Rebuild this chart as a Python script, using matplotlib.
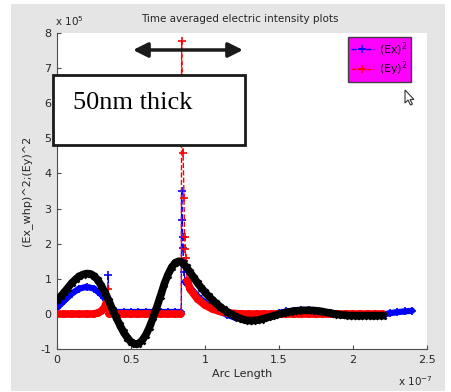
import matplotlib
matplotlib.use("Agg")
import matplotlib.pyplot as plt
import numpy as np
from matplotlib.patches import Rectangle, Polygon
from matplotlib.collections import LineCollection

# ---- data (x in units of 1e-7, y in units of 1e5) ----
ex_x = [0.00, 0.05, 0.10, 0.15, 0.20, 0.25, 0.30, 0.33, 0.342, 0.345, 0.355, 0.40, 0.45, 0.50,
        0.55, 0.60, 0.65, 0.70, 0.75, 0.80, 0.84, 0.842, 0.846, 0.849, 0.851, 0.855, 0.860, 0.865,
        0.88, 0.90, 0.95, 1.00, 1.05, 1.10, 1.15, 1.20, 1.25, 1.30, 1.35, 1.40, 1.45, 1.50,
        1.55, 1.60, 1.65, 1.70, 1.75, 1.80, 1.85, 1.90, 1.95, 2.00, 2.05, 2.10, 2.15, 2.20,
        2.25, 2.30, 2.35, 2.40]
ex_y = [0.17, 0.38, 0.58, 0.72, 0.77, 0.72, 0.55, 0.40, 0.30, 1.10, 0.05, 0.05, 0.05, 0.05,
        0.05, 0.05, 0.05, 0.05, 0.05, 0.05, 0.05, 3.50, 2.66, 2.20, 1.88, 1.50, 1.20, 0.92,
        0.85, 0.75, 0.50, 0.32, 0.17, 0.07, -0.03, -0.10, -0.14, -0.15, -0.12, -0.07, -0.02, 0.03,
        0.07, 0.09, 0.10, 0.10, 0.09, 0.06, 0.03, 0.00, -0.02, -0.03, -0.03, -0.03, -0.03, -0.02,
        0.02, 0.05, 0.07, 0.09]

ey_x = [0.00, 0.05, 0.10, 0.15, 0.20, 0.25, 0.28, 0.30, 0.32, 0.335, 0.345, 0.35, 0.40, 0.45,
        0.50, 0.55, 0.60, 0.65, 0.70, 0.75, 0.80, 0.84, 0.842, 0.852, 0.858, 0.862, 0.866, 0.870,
        0.875, 0.88, 0.90, 0.95, 1.00, 1.05, 1.10, 1.15, 1.20, 1.25, 1.30, 1.35, 1.40, 1.45,
        1.50, 1.55, 1.60, 1.65, 1.70, 1.75, 1.80, 1.85, 1.90, 1.95, 2.00, 2.05, 2.10, 2.15, 2.20]
ey_y = [0.00, 0.00, 0.00, 0.00, 0.00, 0.00, 0.03, 0.08, 0.17, 0.35, 0.70, 0.00, 0.00, 0.00,
        0.00, 0.00, 0.00, 0.00, 0.00, 0.00, 0.00, 0.00, 7.76, 4.59, 3.30, 2.19, 1.85, 1.60,
        1.25, 0.95, 0.70, 0.42, 0.25, 0.14, 0.07, 0.03, 0.01, 0.00, 0.00, 0.00, 0.00, 0.00,
        0.00, 0.00, 0.00, 0.00, 0.00, 0.00, 0.00, 0.00, 0.00, 0.00, 0.00, 0.00, 0.00, 0.00, 0.00]

bk_x = [0.000, 0.025, 0.050, 0.075, 0.100, 0.125, 0.150, 0.175, 0.200, 0.225, 0.250, 0.275,
        0.300, 0.325, 0.350, 0.375, 0.400, 0.425, 0.450, 0.475, 0.500, 0.525, 0.550, 0.575,
        0.600, 0.625, 0.650, 0.675, 0.700, 0.725, 0.750, 0.775, 0.800, 0.825, 0.850, 0.875,
        0.900, 0.925, 0.950, 0.975, 1.000, 1.025, 1.050, 1.075, 1.100, 1.125, 1.150, 1.175,
        1.200, 1.225, 1.250, 1.275, 1.300, 1.325, 1.350, 1.375, 1.400, 1.425, 1.450, 1.475,
        1.500, 1.525, 1.550, 1.575, 1.600, 1.625, 1.650, 1.675, 1.700, 1.725, 1.750, 1.775,
        1.800, 1.825, 1.850, 1.875, 1.900, 1.925, 1.950, 1.975, 2.000, 2.025, 2.050, 2.075,
        2.100, 2.125, 2.150, 2.175, 2.200]
bk_y = [0.40, 0.50, 0.62, 0.75, 0.88, 0.98, 1.07, 1.12, 1.15, 1.14, 1.08, 0.97,
        0.80, 0.60, 0.38, 0.12, -0.10, -0.32, -0.52, -0.68, -0.80, -0.86, -0.85, -0.76,
        -0.60, -0.38, -0.10, 0.20, 0.52, 0.85, 1.12, 1.33, 1.46, 1.50, 1.45, 1.33,
        1.18, 1.03, 0.88, 0.74, 0.62, 0.50, 0.40, 0.30, 0.21, 0.13, 0.06, 0.00,
        -0.06, -0.11, -0.15, -0.18, -0.19, -0.19, -0.18, -0.16, -0.13, -0.10, -0.07, -0.04,
        -0.01, 0.02, 0.04, 0.06, 0.08, 0.09, 0.10, 0.10, 0.10, 0.10, 0.09, 0.08,
        0.06, 0.04, 0.02, 0.00, -0.02, -0.03, -0.04, -0.05, -0.05, -0.05, -0.05, -0.05,
        -0.05, -0.05, -0.05, -0.05, -0.05]

x_ticks = [0, 0.5, 1, 1.5, 2, 2.5]
x_ticklabels = ["0", "0.5", "1", "1.5", "2", "2.5"]
y_ticks = [-1, 0, 1, 2, 3, 4, 5, 6, 7, 8]
y_ticklabels = ["-1", "0", "1", "2", "3", "4", "5", "6", "7", "8"]

W, H = 452, 392
fig = plt.figure(figsize=(W / 100, H / 100), dpi=100)
fig.patch.set_facecolor("white")
fig.patches.append(Rectangle((11 / W, 1 / H), (445 - 11) / W, (388 - 1) / H,
                             transform=fig.transFigure, facecolor="#e5e5e5",
                             edgecolor="none", zorder=-10))

ax = fig.add_axes([57 / W, 1 - 349 / H, (427 - 57) / W, (349 - 33) / H])
ax.set_zorder(1)
ax.set_facecolor("white")
ax.set_xlim(0, 2.5)
ax.set_ylim(-1, 8)


def band(xs, ys, color, z, lw=4.5):
    """Dense-marker band look: thick strokes only on the gently sloped segments."""
    xs = np.asarray(xs)
    ys = np.asarray(ys)
    segs = np.stack([np.column_stack([xs[:-1], ys[:-1]]),
                     np.column_stack([xs[1:], ys[1:]])], axis=1)
    slope = np.abs(np.diff(ys)) / np.maximum(np.diff(xs), 1e-9)
    keep = slope < 25
    lc = LineCollection(segs[keep], colors=color, linewidths=lw, zorder=z,
                        capstyle="round")
    ax.add_collection(lc)


band(ex_x, ex_y, "blue", 2, lw=4.5)
ax.plot(ex_x, ex_y, linestyle="--", color="blue", lw=1, marker="+", ms=6, mew=1.2,
        zorder=3, label="(Ex)$^2$")
band(ey_x, ey_y, "red", 4, lw=5.5)
ax.plot(ey_x, ey_y, linestyle="--", color="red", lw=1, marker="+", ms=6, mew=1.2,
        zorder=5, label="(Ey)$^2$")
ax.plot(bk_x, bk_y, color="black", lw=5.5, zorder=6)
ax.plot(bk_x, bk_y, linestyle="none", color="black", marker="x", ms=5, mew=1.8, zorder=7)

for s in ["top", "right"]:
    ax.spines[s].set_visible(False)
for s in ["left", "bottom"]:
    ax.spines[s].set_color("#4d4d4d")
    ax.spines[s].set_linewidth(0.8)
ax.set_xticks(x_ticks)
ax.set_xticklabels(x_ticklabels)
ax.set_yticks(y_ticks)
ax.set_yticklabels(y_ticklabels)
ax.tick_params(direction="in", length=3, width=0.8, color="#4d4d4d",
               labelsize=8, labelcolor="#262626", pad=4)

ax.set_xlabel("Arc Length", fontsize=8, color="#262626", labelpad=3)
ax.set_ylabel("(Ex_whp)^2;(Ey)^2", fontsize=8, color="#262626", labelpad=6)

fig.text(240 / W, 1 - 19 / H, "Time averaged electric intensity plots", ha="center",
         va="center", fontsize=7.5, color="#262626")
fig.text(55 / W, 1 - 21 / H, "x 10$^5$", ha="left", va="center", fontsize=7.5, color="#262626")
fig.text(398 / W, 1 - 381 / H, "x 10$^{-7}$", ha="left", va="center", fontsize=7.5,
         color="#262626")

leg = ax.legend(loc="upper left", bbox_to_anchor=(348 / W, 1 - 37 / H),
                bbox_transform=fig.transFigure, fontsize=8, frameon=True,
                fancybox=False, handlelength=2.0, handletextpad=0.5,
                borderpad=0.3, labelspacing=0.15, borderaxespad=0, markerscale=0.9)
leg.get_frame().set_facecolor("#ff00ff")
leg.get_frame().set_edgecolor("#404040")
leg.get_frame().set_linewidth(1.0)
leg.get_frame().set_alpha(1)

# double-headed arrow
ax.annotate("", xy=(243 / W, 1 - 50 / H), xytext=(133 / W, 1 - 50 / H),
            xycoords="figure fraction", textcoords="figure fraction",
            arrowprops=dict(arrowstyle="<|-|>", color="#1a1a1a", lw=2.5,
                            mutation_scale=22, shrinkA=0, shrinkB=0), zorder=20)

# text box (drawn above the axes)
fig.patches.append(Rectangle((53 / W, 1 - 145 / H), 192 / W, 70 / H,
                             transform=fig.transFigure, facecolor="white",
                             edgecolor="#1a1a1a", lw=2, zorder=30))
fig.text(73 / W, 1 - 103 / H, "50nm thick", ha="left", va="center", fontsize=19,
         family="Liberation Serif", color="black", zorder=31)

# cursor glyph
cx, cy = 405, 90
pts = [(cx, cy), (cx, cy + 13), (cx + 3, cy + 10), (cx + 5.5, cy + 15), (cx + 7.5, cy + 14),
       (cx + 5, cy + 9.5), (cx + 9, cy + 9.5)]
fig.patches.append(Polygon([(px / W, 1 - py / H) for px, py in pts], closed=True,
                           transform=fig.transFigure, facecolor="white",
                           edgecolor="#333333", lw=0.8, zorder=30))

fig.savefig("out.png", dpi=100, facecolor=fig.get_facecolor())
